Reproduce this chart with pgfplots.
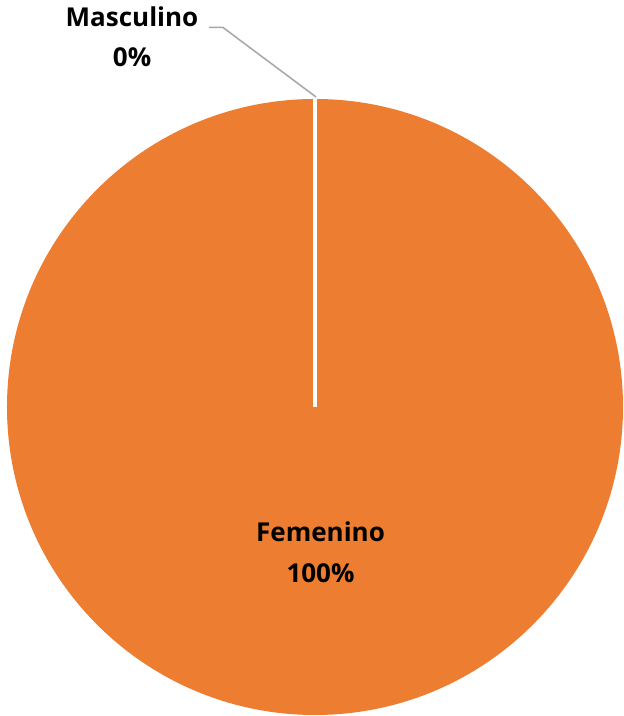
\documentclass[border=0pt]{standalone}
\usepackage{pgfplots}
\usepackage{pgfplotstable}
\pgfplotsset{compat=1.18}
\usepackage{fontspec}
\setmainfont{Open Sans}
\definecolor{pieorange}{HTML}{ED7D31}
\definecolor{leadergray}{HTML}{A6A6A6}
\pgfplotstableread{
label value
Masculino 0
Femenino 100
}\piedata
\begin{document}
\begin{tikzpicture}
\pgfplotstablegetelem{0}{value}\of\piedata\let\valM\pgfplotsretval
\pgfplotstablegetelem{1}{value}\of\piedata\let\valF\pgfplotsretval
\pgfmathsetmacro{\total}{\valM+\valF}
\pgfmathsetmacro{\angA}{90}
\pgfmathsetmacro{\angB}{90-(\valM/\total)*360}
\pgfmathsetmacro{\angC}{\angB-(\valF/\total)*360}
\begin{axis}[
  scale only axis, width=624bp, height=716bp,
  xmin=-1.0227, xmax=1.00325, ymin=-1.00325, ymax=1.3214,
  hide axis, clip=false,
]
\coordinate (c) at (axis cs:0,0);
% Femenino slice (100%)
\fill[pieorange] (c) -- ++(\angB:308bp) arc[start angle=\angB, end angle=\angC, radius=308bp] -- cycle;
% slice borders (white)
\draw[white, line width=4.5bp] (c) -- ++(\angA:308.5bp);
\draw[white, line width=4.5bp] (c) -- ++(\angB:308.5bp);
% leader line for Masculino
\draw[leadergray, line width=1.5bp] (axis cs:-0.3441,1.2321) -- (axis cs:-0.2987,1.2321) -- (axis cs:0.0033,1.0065);
% labels
\node[anchor=base, font=\fontsize{26bp}{30bp}\selectfont\bfseries, inner sep=0pt] at (axis cs:-0.594,1.2338) {Masculino};
\node[anchor=base, font=\fontsize{26bp}{30bp}\selectfont\bfseries, inner sep=0pt] at (axis cs:-0.594,1.1039) {\valM\%};
\node[anchor=base, font=\fontsize{26bp}{30bp}\selectfont\bfseries, inner sep=0pt] at (axis cs:0.0179,-0.4383) {Femenino};
\node[anchor=base, font=\fontsize{26bp}{30bp}\selectfont\bfseries, inner sep=0pt] at (axis cs:0.0179,-0.5682) {\valF\%};
\end{axis}
\pgfresetboundingbox
\path[use as bounding box] (current axis.south west) rectangle (current axis.north east);
\end{tikzpicture}
\end{document}
